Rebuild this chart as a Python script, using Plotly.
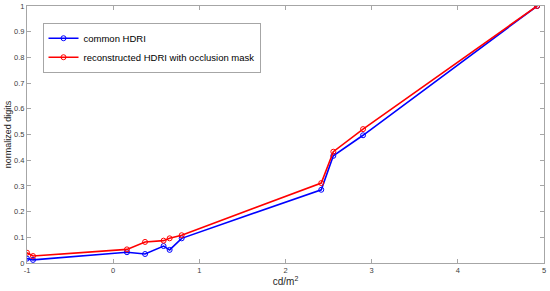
import plotly.graph_objects as go

x_vals = [-1.0, -0.93, 0.16, 0.37, 0.585, 0.655, 0.795, 2.415, 2.555, 2.90, 4.92]
common_hdri = [0.017, 0.012, 0.042, 0.035, 0.066, 0.051, 0.096, 0.285, 0.417, 0.497, 1.0]
reconstructed = [0.040, 0.027, 0.053, 0.082, 0.087, 0.096, 0.108, 0.311, 0.433, 0.521, 1.0]

y_ticks = [0, 0.1, 0.2, 0.3, 0.4, 0.5, 0.6, 0.7, 0.8, 0.9, 1]
y_tick_labels = ["0", "0.1", "0.2", "0.3", "0.4", "0.5", "0.6", "0.7", "0.8", "0.9", "1"]
x_ticks = [-1, 0, 1, 2, 3, 4, 5]
x_tick_labels = ["-1", "0", "1", "2", "3", "4", "5"]

FONT = "Arial, Liberation Sans, sans-serif"

fig = go.Figure()
fig.add_trace(go.Scatter(
    x=x_vals, y=common_hdri, mode="lines+markers", name="common HDRI",
    line=dict(color="#0000ff", width=1.6),
    marker=dict(symbol="circle-open", size=5, color="#0000ff", line=dict(width=1)),
))
fig.add_trace(go.Scatter(
    x=x_vals, y=reconstructed, mode="lines+markers",
    name="reconstructed HDRI with occlusion mask",
    line=dict(color="#ff0000", width=1.6),
    marker=dict(symbol="circle-open", size=5, color="#ff0000", line=dict(width=1)),
))

axis_common = dict(
    showgrid=False, zeroline=False, showline=True, linecolor="#a6a6a6", linewidth=1,
    mirror="ticks", ticks="inside", ticklen=4, tickcolor="#a6a6a6",
    tickfont=dict(family=FONT, size=7.5, color="#404040"),
    automargin=False,
)
fig.update_xaxes(range=[-1, 5], tickvals=x_ticks, ticktext=x_tick_labels,
                 title=dict(text="cd/m<sup>2</sup>", standoff=0,
                            font=dict(family=FONT, size=10, color="#262626")),
                 **axis_common)
fig.update_yaxes(range=[0, 1], tickvals=y_ticks, ticktext=y_tick_labels,
                 title=dict(text="normalized digits", standoff=0,
                            font=dict(family=FONT, size=9, color="#262626")),
                 **axis_common)

fig.update_layout(
    width=550, height=291,
    margin=dict(l=27, r=6, t=6, b=28),
    plot_bgcolor="white", paper_bgcolor="white",
    showlegend=True,
    legend=dict(x=0.03, y=0.935, xanchor="left", yanchor="top",
                bgcolor="white", bordercolor="#a6a6a6", borderwidth=1,
                font=dict(family=FONT, size=9.5, color="#000000"),
                itemwidth=30, tracegroupgap=0),
)

fig.write_html("out.html", config={"displayModeBar": False},
               post_script="document.body.style.margin='0';")
